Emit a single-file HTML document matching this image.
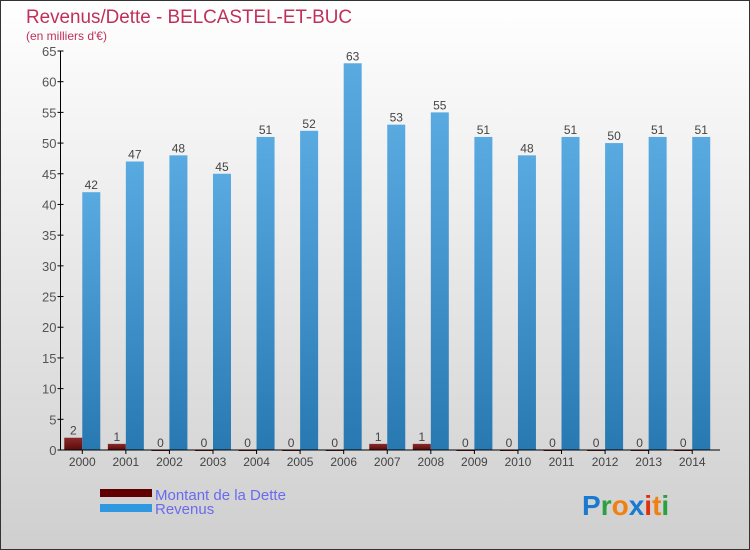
<!DOCTYPE html>
<html><head><meta charset="utf-8"><style>
body{margin:0;}
svg{display:block;font-family:"Liberation Sans",sans-serif;}
</style></head><body>
<svg id="chart" width="750" height="550" xmlns="http://www.w3.org/2000/svg">
<defs>
<linearGradient id="bg" x1="0" y1="0" x2="0" y2="1"><stop offset="0" stop-color="#ffffff"/><stop offset="1" stop-color="#cfcfcf"/></linearGradient>
<linearGradient id="rev" x1="0" y1="0" x2="0" y2="1"><stop offset="0" stop-color="#5aaae2"/><stop offset="1" stop-color="#2878b2"/></linearGradient>
<linearGradient id="debt" x1="0" y1="0" x2="0" y2="1"><stop offset="0" stop-color="#8a2a2a"/><stop offset="1" stop-color="#5a0a0a"/></linearGradient>
</defs>
<rect x="0.5" y="0.5" width="749" height="549" fill="url(#bg)" stroke="#333"/>
<text x="26" y="23" font-size="19" textLength="326" lengthAdjust="spacingAndGlyphs" fill="#c0305a">Revenus/Dette - BELCASTEL-ET-BUC</text>
<text x="26" y="40" font-size="12" fill="#c0305a">(en milliers d'€)</text>
<g id="plot"></g>
<rect x="100" y="489" width="52" height="8" fill="#600000"/>
<rect x="100" y="504" width="52" height="8" fill="#3098e0"/>
<text x="155" y="500" font-size="15" fill="#6a6af0">Montant de la Dette</text>
<text x="155" y="514" font-size="15" fill="#6a6af0">Revenus</text>
<text x="582" y="515" font-size="28" font-weight="bold"><tspan fill="#1a7ad0">P</tspan><tspan fill="#2aa040">r</tspan><tspan fill="#f08010">o</tspan><tspan fill="#1a7ad0">x</tspan><tspan fill="#e03010">i</tspan><tspan fill="#f08010">t</tspan><tspan fill="#2aa040">i</tspan></text>
</svg>
<script>
const categories=["2000","2001","2002","2003","2004","2005","2006","2007","2008","2009","2010","2011","2012","2013","2014"];
const dette=[2,1,0,0,0,0,0,1,1,0,0,0,0,0,0];
const revenus=[42,47,48,45,51,52,63,53,55,51,48,51,50,51,51];
const yTicks=[0,5,10,15,20,25,30,35,40,45,50,55,60,65];
const NS="http://www.w3.org/2000/svg";
const g=document.getElementById('plot');
const x0=60.5,x1=720,y0=450,yTop=51,yMax=65;
const band=(x1-x0-6)/categories.length;
const yS=v=>y0-(v/yMax)*(y0-yTop);
const xC=i=>x0+band*(i+0.5);
function mk(t,a){const e=document.createElementNS(NS,t);for(const k in a)e.setAttribute(k,a[k]);g.appendChild(e);return e;}
yTicks.forEach(v=>{
 const y=yS(v);
 const l=mk('line',{x1:x0-3,x2:x0+3,y1:y,y2:y,stroke:'#000'});
 
 
 const t=mk('text',{x:x0-4,y:y+5,'text-anchor':'end','font-size':13,fill:'#555'});
 t.textContent=v;
 
 
});
categories.forEach((c,i)=>{
 const cx=xC(i);
 const d=mk('rect',{x:cx-18,y:yS(dette[i]),width:18,height:Math.max(y0-yS(dette[i]),1),fill:'url(#debt)'});
 
 
 const r=mk('rect',{x:cx,y:yS(revenus[i]),width:18,height:y0-yS(revenus[i]),fill:'url(#rev)'});
 
 
 const dl=mk('text',{x:cx-9,y:yS(dette[i])-3,'text-anchor':'middle','font-size':12,fill:'#444'});
 dl.textContent=dette[i];
 
 
 const rl=mk('text',{x:cx+9,y:yS(revenus[i])-3,'text-anchor':'middle','font-size':12,fill:'#444'});
 rl.textContent=revenus[i];
 
 
 const tk=mk('line',{x1:cx,x2:cx,y1:y0,y2:y0+4,stroke:'#000'});
 
 
 const xl=mk('text',{x:cx,y:y0+16,'text-anchor':'middle','font-size':12,fill:'#444'});
 xl.textContent=c;
 
 
});
const ya=mk('line',{x1:x0,x2:x0,y1:yTop,y2:y0,stroke:'#000'});


const xa=mk('line',{x1:x0-3,x2:x1,y1:y0,y2:y0,stroke:'#000'});


</script>
</body></html>
